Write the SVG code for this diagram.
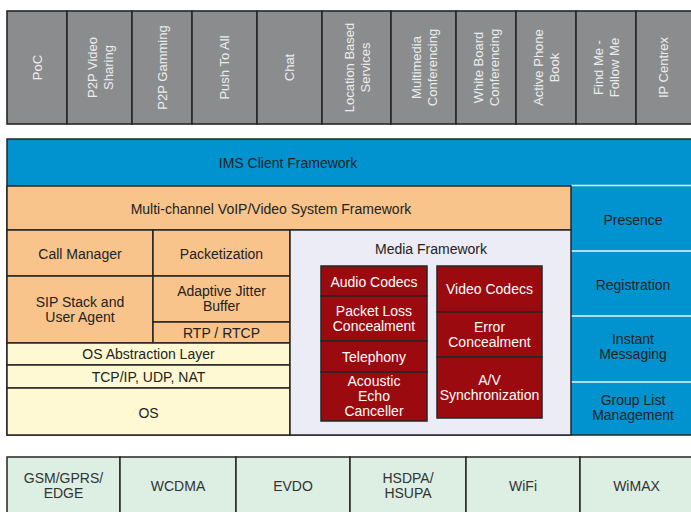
<svg xmlns="http://www.w3.org/2000/svg" width="691" height="512" viewBox="0 0 691 512">
<style>
text{font-family:"Liberation Sans",Arial,sans-serif;font-size:14px;text-anchor:middle;dominant-baseline:central}
.app{fill:#8b8c8e;stroke:#262626;stroke-width:1.6}
.app-t{fill:#ececec;font-size:13px}
.blue{fill:#0093cf}
.orange{fill:#f9c48b;stroke:#262626;stroke-width:1.5}
.yellow{fill:#fef9d2;stroke:#262626;stroke-width:1.5}
.media{fill:#ececf6;stroke:#262626;stroke-width:1.5}
.red{fill:#9b0a0e;stroke:#262626;stroke-width:1.5}
.red-t{fill:#ffffff}
.net{fill:#ddeee3;stroke:#262626;stroke-width:1.5}
.dark{fill:#222222}
.net-t{fill:#333333}
.sep{stroke:#e8f4fb;stroke-width:1.5}
</style>

<!-- Application row -->
<g id="app-poc"><rect class="app" x="7" y="11" width="60" height="113"/><text class="app-t" transform="translate(37,67.5) rotate(-90)">PoC</text></g>
<g id="app-p2pvideo"><rect class="app" x="67" y="11" width="65" height="113"/><text class="app-t" transform="translate(99.5,67.5) rotate(-90)"><tspan x="0" y="-8">P2P Video</tspan><tspan x="0" y="8">Sharing</tspan></text></g>
<g id="app-p2pgamming"><rect class="app" x="132" y="11" width="60" height="113"/><text class="app-t" transform="translate(162,67.5) rotate(-90)">P2P Gamming</text></g>
<g id="app-pushtoall"><rect class="app" x="192" y="11" width="65" height="113"/><text class="app-t" transform="translate(224.5,67.5) rotate(-90)">Push To All</text></g>
<g id="app-chat"><rect class="app" x="257" y="11" width="65" height="113"/><text class="app-t" transform="translate(289.5,67.5) rotate(-90)">Chat</text></g>
<g id="app-location"><rect class="app" x="322" y="11" width="69" height="113"/><text class="app-t" transform="translate(356.5,67.5) rotate(-90)"><tspan x="0" y="-8">Location Based</tspan><tspan x="0" y="8">Services</tspan></text></g>
<g id="app-multimedia"><rect class="app" x="391" y="11" width="65" height="113"/><text class="app-t" transform="translate(423.5,67.5) rotate(-90)"><tspan x="0" y="-8">Multimedia</tspan><tspan x="0" y="8">Conferencing</tspan></text></g>
<g id="app-whiteboard"><rect class="app" x="456" y="11" width="60" height="113"/><text class="app-t" transform="translate(486,67.5) rotate(-90)"><tspan x="0" y="-8">White Board</tspan><tspan x="0" y="8">Conferencing</tspan></text></g>
<g id="app-phonebook"><rect class="app" x="516" y="11" width="60" height="113"/><text class="app-t" transform="translate(546,67.5) rotate(-90)"><tspan x="0" y="-8">Active Phone</tspan><tspan x="0" y="8">Book</tspan></text></g>
<g id="app-findme"><rect class="app" x="576" y="11" width="60" height="113"/><text class="app-t" transform="translate(606,67.5) rotate(-90)"><tspan x="0" y="-8">Find Me -</tspan><tspan x="0" y="8">Follow Me</tspan></text></g>
<g id="app-ipcentrex"><rect class="app" x="636" y="11" width="57" height="113"/><text class="app-t" transform="translate(663.5,67.5) rotate(-90)">IP Centrex</text></g>

<!-- IMS Client Framework -->
<g id="ims"><rect class="blue" x="7" y="139" width="686" height="296" stroke="#262626" stroke-width="1.5"/><text class="dark" x="288" y="163">IMS Client Framework</text></g>

<!-- Right column services -->
<g id="presence"><line class="sep" x1="571" y1="185.5" x2="691" y2="185.5"/><text class="dark" x="633" y="220">Presence</text></g>
<g id="registration"><line class="sep" x1="571" y1="251" x2="691" y2="251"/><text class="dark" x="633" y="285">Registration</text></g>
<g id="instant-messaging"><line class="sep" x1="571" y1="316" x2="691" y2="316"/><text class="dark"><tspan x="633" y="339">Instant</tspan><tspan x="633" y="354">Messaging</tspan></text></g>
<g id="group-list"><line class="sep" x1="571" y1="382" x2="691" y2="382"/><text class="dark"><tspan x="633" y="400">Group List</tspan><tspan x="633" y="415">Management</tspan></text></g>

<!-- VoIP framework -->
<g id="voip-framework"><rect class="orange" x="7" y="186" width="564" height="44"/><text class="dark" x="271" y="208.5">Multi-channel VoIP/Video System Framework</text></g>
<g id="call-manager"><rect class="orange" x="7" y="230" width="146" height="46"/><text class="dark" x="80" y="253.5">Call Manager</text></g>
<g id="packetization"><rect class="orange" x="153" y="230" width="137" height="46"/><text class="dark" x="221.5" y="253.5">Packetization</text></g>
<g id="sip-stack"><rect class="orange" x="7" y="276" width="146" height="67"/><text class="dark"><tspan x="80" y="302">SIP Stack and</tspan><tspan x="80" y="317">User Agent</tspan></text></g>
<g id="jitter-buffer"><rect class="orange" x="153" y="276" width="137" height="46"/><text class="dark"><tspan x="221.5" y="291">Adaptive Jitter</tspan><tspan x="221.5" y="306">Buffer</tspan></text></g>
<g id="rtp"><rect class="orange" x="153" y="322" width="137" height="21"/><text class="dark" x="221.5" y="332.5">RTP / RTCP</text></g>
<g id="os-abstraction"><rect class="yellow" x="7" y="343" width="283" height="22"/><text class="dark" x="148.5" y="354">OS Abstraction Layer</text></g>
<g id="tcpip"><rect class="yellow" x="7" y="365" width="283" height="23"/><text class="dark" x="148.5" y="376.5">TCP/IP, UDP, NAT</text></g>
<g id="os"><rect class="yellow" x="7" y="388" width="283" height="47"/><text class="dark" x="148.5" y="413">OS</text></g>

<!-- Media framework -->
<g id="media-framework"><rect class="media" x="290" y="230" width="281" height="205"/><text class="dark" x="431" y="249">Media Framework</text></g>
<g id="audio-codecs"><rect class="red" x="321" y="266" width="106" height="30"/><text class="red-t" x="374" y="282">Audio Codecs</text></g>
<g id="packet-loss"><rect class="red" x="321" y="296" width="106" height="45"/><text class="red-t"><tspan x="374" y="311">Packet Loss</tspan><tspan x="374" y="326">Concealment</tspan></text></g>
<g id="telephony"><rect class="red" x="321" y="341" width="106" height="31"/><text class="red-t" x="374" y="357">Telephony</text></g>
<g id="echo-canceller"><rect class="red" x="321" y="372" width="106" height="49"/><text class="red-t"><tspan x="374" y="381">Acoustic</tspan><tspan x="374" y="396">Echo</tspan><tspan x="374" y="411">Canceller</tspan></text></g>
<g id="video-codecs"><rect class="red" x="437" y="266" width="105" height="46"/><text class="red-t" x="489.5" y="289">Video Codecs</text></g>
<g id="error-concealment"><rect class="red" x="437" y="312" width="105" height="45"/><text class="red-t"><tspan x="489.5" y="327">Error</tspan><tspan x="489.5" y="342">Concealment</tspan></text></g>
<g id="av-sync"><rect class="red" x="437" y="357" width="105" height="61"/><text class="red-t"><tspan x="489.5" y="380">A/V</tspan><tspan x="489.5" y="395">Synchronization</tspan></text></g>

<!-- Network row -->
<g id="net-gsm"><rect class="net" x="7" y="457" width="113" height="60"/><text class="net-t"><tspan x="63.5" y="478">GSM/GPRS/</tspan><tspan x="63.5" y="493">EDGE</tspan></text></g>
<g id="net-wcdma"><rect class="net" x="120" y="457" width="116" height="60"/><text class="net-t" x="178" y="485.5">WCDMA</text></g>
<g id="net-evdo"><rect class="net" x="236" y="457" width="114" height="60"/><text class="net-t" x="293" y="485.5">EVDO</text></g>
<g id="net-hsdpa"><rect class="net" x="350" y="457" width="116" height="60"/><text class="net-t"><tspan x="408" y="478">HSDPA/</tspan><tspan x="408" y="493">HSUPA</tspan></text></g>
<g id="net-wifi"><rect class="net" x="466" y="457" width="114" height="60"/><text class="net-t" x="523" y="485.5">WiFi</text></g>
<g id="net-wimax"><rect class="net" x="580" y="457" width="113" height="60"/><text class="net-t" x="636.5" y="485.5">WiMAX</text></g>

<g id="connectors"></g>
</svg>
